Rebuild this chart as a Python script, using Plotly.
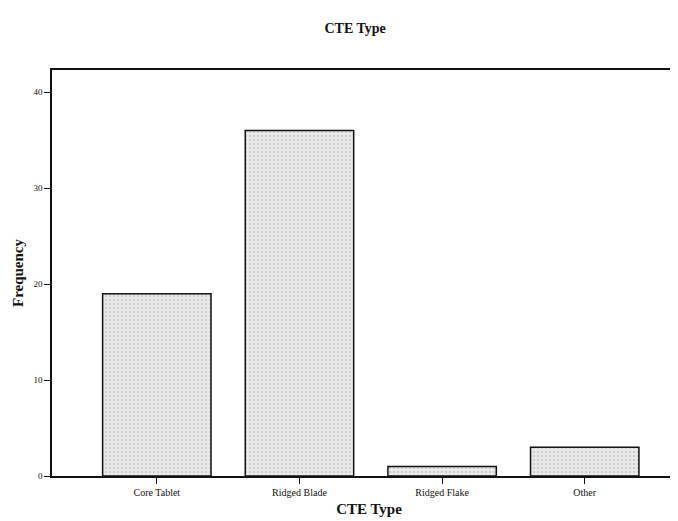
import plotly.graph_objects as go

# CTE type counts
categories = ["Core Tablet", "Ridged Blade", "Ridged Flake", "Other"]
frequency = [19, 36, 1, 3]
yTicks = [0, 10, 20, 30, 40]

serif = "Liberation Serif, Times New Roman, serif"

# the page body adds an 8px offset, so the margins are shifted back by it
fig = go.Figure()
fig.add_trace(go.Bar(
    x=categories, y=frequency, width=0.76,
    marker=dict(color="#e9e9e9",
                line=dict(color="#111111", width=1.5),
                pattern=dict(shape=".", fgcolor="#b0b0b0", bgcolor="#ececec",
                             size=4, solidity=0.35)),
    hoverinfo="x+y",
))

fig.update_layout(
    width=678, height=521,
    margin=dict(l=44, r=0, t=62, b=53, autoexpand=False),
    plot_bgcolor="white", paper_bgcolor="white",
    showlegend=False,
    font=dict(family=serif, color="#111111"),
    title=dict(text="<b>CTE Type</b>", x=0.512, xanchor="center",
               y=1 - 20 / 521, yanchor="middle", yref="container",
               font=dict(size=14, family=serif)),
)

fig.update_xaxes(
    range=[-0.735, 3.71], showline=True, mirror=True, linecolor="#111111", linewidth=1.5,
    ticks="outside", ticklen=6, tickcolor="#111111", tickwidth=1,
    tickfont=dict(size=10, family=serif),
    title=dict(text="<b>CTE Type</b>", font=dict(size=15, family=serif), standoff=7),
    showgrid=False,
)
fig.update_yaxes(
    range=[0, 42.3], tickvals=yTicks, showline=True, linecolor="#111111", linewidth=1.5,
    ticks="outside", ticklen=6, tickcolor="#111111", tickwidth=1,
    tickfont=dict(size=9, family=serif),
    title=dict(text="<b>Frequency</b>", font=dict(size=15, family=serif), standoff=6),
    showgrid=False, zeroline=False,
)

fig.write_html("out.html")
